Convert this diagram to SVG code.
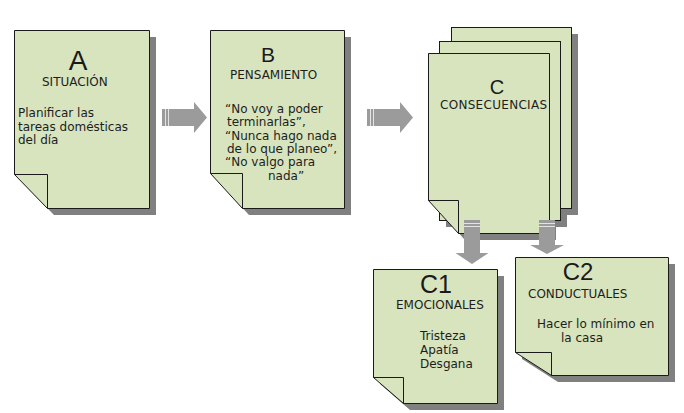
<svg xmlns="http://www.w3.org/2000/svg" width="684" height="413" viewBox="0 0 684 413">
<style>
.pg{fill:#d7e4bd;stroke:#1a1a1a;stroke-width:1}
.fold{fill:none;stroke:#1a1a1a;stroke-width:1}
.sh{fill:#808080}
.ar{fill:#9b9b9b}
.st{stroke:#e4e4e4;stroke-width:1}
.big{font-family:"Liberation Sans",Arial,sans-serif;fill:#1a1a1a;text-anchor:middle}
.ttl{font-family:"DejaVu Sans",Verdana,sans-serif;font-size:12px;fill:#1e1e1e}
.txt{font-family:"DejaVu Sans",Verdana,sans-serif;font-size:12px;fill:#1e1e1e}
</style>
<rect width="684" height="413" fill="#ffffff"/>

<g id="nodeA">
<path class="sh" d="M21,37H156V215H54L21,181Z"/>
<path class="pg" d="M14.5,30.5H149.5V208.5H47.5L14.5,174.5Z"/>
<path class="fold" d="M14.5,174.5H47.5V208.5"/>
<text class="big" x="78" y="70" font-size="28">A</text>
<text class="ttl" x="42" y="86">SITUACIÓN</text>
<text class="txt" x="18" y="117">Planificar las</text>
<text class="txt" x="18" y="130.5">tareas domésticas</text>
<text class="txt" x="18" y="144">del día</text>
</g>

<g id="nodeB">
<path class="sh" d="M217,37H351V215H249L217,180Z"/>
<path class="pg" d="M210.5,30.5H344.5V208.5H242.5L210.5,173.5Z"/>
<path class="fold" d="M210.5,173.5H242.5V208.5"/>
<text class="big" x="268" y="62" font-size="21">B</text>
<text class="ttl" x="230" y="79">PENSAMIENTO</text>
<text class="txt" x="225" y="113">“No voy a poder</text>
<text class="txt" x="227" y="126.3">terminarlas”,</text>
<text class="txt" x="225" y="139.6">“Nunca hago nada</text>
<text class="txt" x="227" y="153">de lo que planeo”,</text>
<text class="txt" x="225" y="166.3">“No valgo para</text>
<text class="txt" x="268" y="179.6">nada”</text>
</g>

<g id="nodeC">
<rect class="sh" x="458" y="34" width="120" height="181"/>
<rect class="sh" x="446" y="48" width="121" height="179"/>
<path class="sh" d="M435,60H556V240H465L435,207Z"/>
<rect class="pg" x="451.5" y="27.5" width="120" height="181"/>
<rect class="pg" x="439.5" y="41.5" width="121" height="179"/>
<path class="pg" d="M428.5,53.5H549.5V233.5H458.5L428.5,200.5Z"/>
<path class="fold" d="M428.5,200.5H458.5V233.5"/>
<text class="big" x="497" y="94" font-size="20">C</text>
<text class="ttl" x="440" y="109" letter-spacing="0.3">CONSECUENCIAS</text>
</g>

<g id="nodeC1">
<path class="sh" d="M380,276H504V410H410L380,384Z"/>
<path class="pg" d="M373.5,269.5H497.5V403.5H403.5L373.5,377.5Z"/>
<path class="fold" d="M373.5,377.5H403.5V403.5"/>
<text class="big" x="436" y="293" font-size="25">C1</text>
<text class="ttl" x="396" y="309">EMOCIONALES</text>
<text class="txt" x="420" y="340">Tristeza</text>
<text class="txt" x="420" y="354">Apatía</text>
<text class="txt" x="420" y="368">Desgana</text>
</g>

<g id="nodeC2">
<path class="sh" d="M522,264H675V382H558L522,359Z"/>
<path class="pg" d="M515.5,257.5H668.5V375.5H551.5L515.5,352.5Z"/>
<path class="fold" d="M515.5,352.5H551.5V375.5"/>
<text class="big" x="578" y="280" font-size="24">C2</text>
<text class="ttl" x="528" y="298">CONDUCTUALES</text>
<text class="txt" x="537" y="328">Hacer lo mínimo en</text>
<text class="txt" x="561" y="342">la casa</text>
</g>

<g id="connectors">
<path class="ar" d="M162,109H194V102L207,117.5L194,133V126H162Z"/>
<path class="st" d="M165.5,109V126M168.5,109V126"/>
<path class="ar" d="M367,109H400V102L413,117.5L400,133V126H367Z"/>
<path class="st" d="M370.5,109V126M373.5,109V126"/>
<path class="ar" d="M464,220H480V253H488.5L472,264L455.5,253H464Z"/>
<path class="st" d="M464,223.5H480M464,226.5H480"/>
<path class="ar" d="M539,220H555V245H564L547,254L530,245H539Z"/>
<path class="st" d="M539,223.5H555M539,226.5H555"/>
</g>
</svg>
